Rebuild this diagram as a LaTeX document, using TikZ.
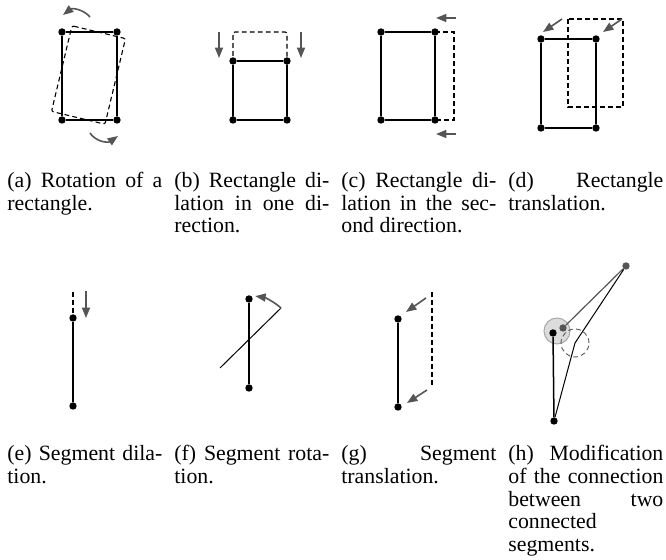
\documentclass[tikz,border=0pt]{standalone}
\usepackage{fontspec}
\setmainfont{Liberation Serif}
\usetikzlibrary{arrows.meta}
\definecolor{arrgray}{HTML}{555555}
\definecolor{lightfill}{HTML}{DCDCDC}
\definecolor{lightedge}{HTML}{A8A8A8}
\newcommand\jline[1]{\makebox[\linewidth][s]{#1}}
\newcommand\capfont{\fontsize{10.9pt}{11.3pt}\selectfont}
\begin{document}
\begin{tikzpicture}[x=0.5pt,y=-0.5pt,
  dot/.style={circle,fill=black,inner sep=0pt,minimum size=3.7pt},
  gdot/.style={circle,fill=arrgray,inner sep=0pt,minimum size=3.7pt},
  seg/.style={line width=0.75pt,black},
  thinseg/.style={line width=0.5pt,black},
  dsh/.style={line width=0.55pt,dash pattern=on 2.4pt off 1.6pt},
  arr/.style={arrgray,line width=0.8pt,-{Triangle[length=5.2pt,width=4pt]}},
  captext/.style={anchor=base west,inner sep=0pt,text=black,font=\capfont}
]
\useasboundingbox (0,0) rectangle (666,560);

% ---------- (a) rotation of a rectangle
\node[dot] (a1) at (62,32) {};
\node[dot] (a2) at (117,32) {};
\node[dot] (a3) at (117,120) {};
\node[dot] (a4) at (62,120) {};
\draw[seg] (a1) -- (a2); \draw[seg] (a2) -- (a3); \draw[seg] (a3) -- (a4); \draw[seg] (a4) -- (a1);
\draw[dsh,rounded corners=1pt] (72,25.8) -- (125.5,38.6) -- (105,124.2) -- (51.5,111.4) -- cycle;
\draw[arr] (90,17) .. controls (83,9) and (72,8) .. (63,15);
\draw[arr] (90,133) .. controls (96,142) and (108,143) .. (118,136);

% ---------- (b) dilation in one direction
\node[dot] (b1) at (233,61) {};
\node[dot] (b2) at (287,61) {};
\node[dot] (b3) at (287,120) {};
\node[dot] (b4) at (233,120) {};
\draw[seg] (b1) -- (b2); \draw[seg] (b2) -- (b3); \draw[seg] (b3) -- (b4); \draw[seg] (b4) -- (b1);
\draw[dsh,rounded corners=1pt] (b4.center) -- (233,32) -- (287,32) -- (b3.center);
\coordinate (b5) at (219,32); \coordinate (b6) at (219,58);
\coordinate (b7) at (301,32); \coordinate (b8) at (301,58);
\draw[arr] (b5) -- (b6);
\draw[arr] (b7) -- (b8);

% ---------- (c) dilation in second direction
\node[dot] (c1) at (381,32) {};
\node[dot] (c2) at (435,32) {};
\node[dot] (c3) at (435,120) {};
\node[dot] (c4) at (381,120) {};
\draw[seg] (c1) -- (c2); \draw[seg] (c2) -- (c3); \draw[seg] (c3) -- (c4); \draw[seg] (c4) -- (c1);
\draw[dsh] (c2.center) -- (454,32) -- (454,120) -- (c3.center);
\coordinate (c5) at (456,18); \coordinate (c6) at (436,18);
\coordinate (c7) at (456,134); \coordinate (c8) at (436,134);
\draw[arr] (c5) -- (c6);
\draw[arr] (c7) -- (c8);

% ---------- (d) translation
\node[dot] (d1) at (541,39) {};
\node[dot] (d2) at (596,39) {};
\node[dot] (d3) at (596,128) {};
\node[dot] (d4) at (541,128) {};
\draw[seg] (d1) -- (d2); \draw[seg] (d2) -- (d3); \draw[seg] (d3) -- (d4); \draw[seg] (d4) -- (d1);
\draw[dsh] (568,19) rectangle (623,107);
\coordinate (d5) at (562,19); \coordinate (d6) at (543,32);
\coordinate (d7) at (622,19); \coordinate (d8) at (603,32);
\draw[arr] (d5) -- (d6);
\draw[arr] (d7) -- (d8);

% ---------- (e) segment dilation
\coordinate (e0) at (73,292);
\node[dot] (e1) at (73,318) {};
\node[dot] (e2) at (73,406) {};
\draw[dsh] (e0) -- (e1);
\draw[seg] (e1) -- (e2);
\coordinate (e5) at (86,291); \coordinate (e6) at (86,318);
\draw[arr] (e5) -- (e6);

% ---------- (f) segment rotation
\node[dot] (f1) at (249,299) {};
\node[dot] (f2) at (249,388) {};
\draw[seg] (f1) -- (f2);
\coordinate (f3) at (220,368); \coordinate (f4) at (281,308);
\draw[thinseg] (f3) -- (f4);
\draw[arr] (f4) arc[start angle=-48.4,end angle=-82,radius=49];

% ---------- (g) segment translation
\node[dot] (g1) at (398,319) {};
\node[dot] (g2) at (398,407) {};
\draw[seg] (g1) -- (g2);
\coordinate (g3) at (432,292); \coordinate (g4) at (432,386);
\draw[dsh] (g3) -- (g4);
\coordinate (g5) at (426,298); \coordinate (g6) at (406,312);
\coordinate (g7) at (427,390); \coordinate (g8) at (407,403);
\draw[arr] (g5) -- (g6);
\draw[arr] (g7) -- (g8);

% ---------- (h) modification of the connection
\node[circle,fill=lightfill,draw=lightedge,line width=0.5pt,minimum size=13pt,inner sep=0pt] (hc) at (557,331) {};
\node[circle,draw=arrgray,dsh,line width=0.45pt,minimum size=14pt,inner sep=0pt] (hd) at (575,343) {};
\node[gdot] (ht) at (626,266) {};
\node[dot] (h1) at (553,333) {};
\node[gdot] (h2) at (563,328) {};
\node[dot] (h3) at (554,421) {};
\draw[seg] (h1) -- (h3);
\draw[arrgray,line width=0.6pt] (h2) -- (ht);
\draw[thinseg] (ht) -- (hd.center) -- (h3);

% ---------- captions
\node[captext] (capa) at (7,187.5) {\parbox[t]{77.5pt}{\jline{(a) Rotation of a}\\rectangle.}};
\node[captext] (capb) at (174,187.5) {\parbox[t]{77.5pt}{\jline{(b) Rectangle di-}\\\jline{lation in one di-}\\rection.}};
\node[captext] (capc) at (341,187.5) {\parbox[t]{77.5pt}{\jline{(c) Rectangle di-}\\\jline{lation in the sec-}\\ond direction.}};
\node[captext] (capd) at (508,187.5) {\parbox[t]{77.5pt}{\jline{(d) Rectangle}\\translation.}};

\node[captext] (cape) at (7,461) {\parbox[t]{77.5pt}{\jline{(e) Segment dila-}\\tion.}};
\node[captext] (capf) at (174,461) {\parbox[t]{77.5pt}{\jline{(f) Segment rota-}\\tion.}};
\node[captext] (capg) at (341,461) {\parbox[t]{77.5pt}{\jline{(g) Segment}\\translation.}};
\node[captext] (caph) at (508,461) {\parbox[t]{77.5pt}{\jline{(h) Modification}\\\jline{of the connection}\\\jline{between two}\\connected\\segments.}};
\end{tikzpicture}
\end{document}
